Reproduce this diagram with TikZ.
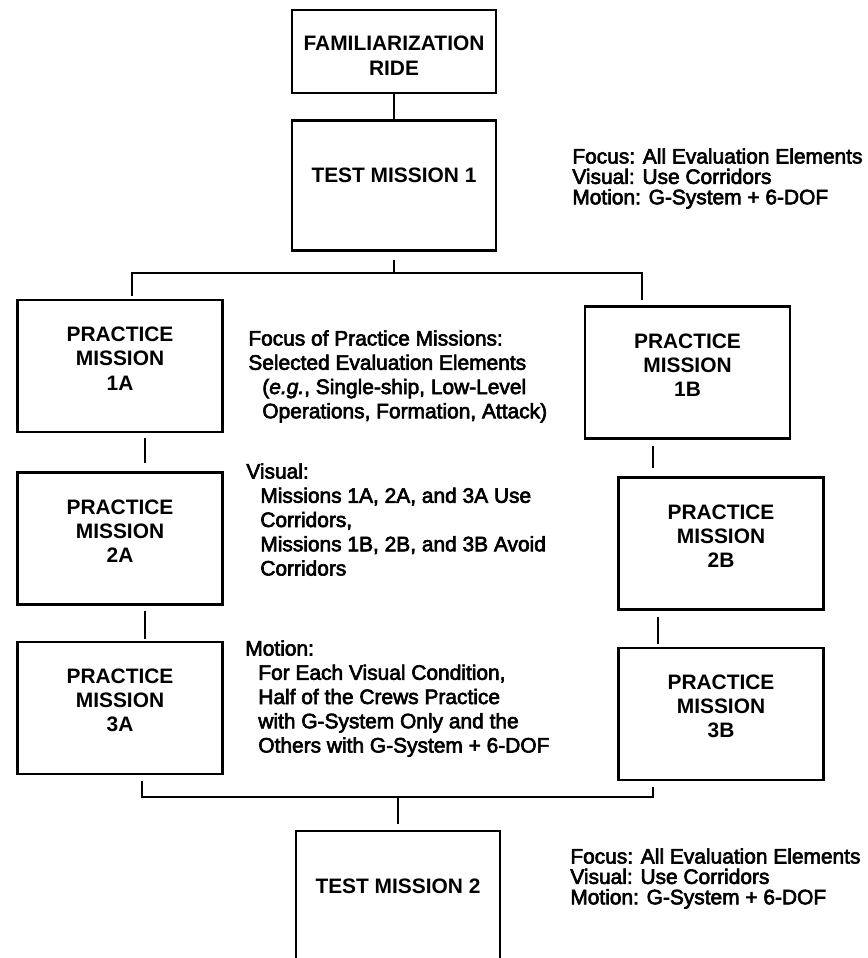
\documentclass[tikz,border=0pt]{standalone}
\usepackage{fontspec}
\setmainfont{Liberation Sans}
\newfontfamily\notefont[FakeBold=3]{Liberation Sans}
\usetikzlibrary{
  positioning,
  calc}

\tikzset{
  %% box : common outline of every mission box
  box/.style={
    rectangle,
    draw=black,
    line width=1.4pt,
    inner sep=0pt,
    align=center,
    font=\bfseries\fontsize{11.9}{13.7}\selectfont
  },
  %% ridebox : the familiarization ride
  ridebox/.style={
    box,
    minimum width=4.08cm,
    text height=1.3cm,
    text depth=0.36cm
  },
  %% testbox : a test mission, label sits above the middle
  testbox/.style={
    box,
    minimum width=4.07cm,
    text height=1.24cm,
    text depth=1.36cm
  },
  %% practicebox : a practice mission
  practicebox/.style={
    box,
    minimum width=4.1cm,
    text height=1.8cm,
    text depth=0.84cm
  },
  %% note : explanations between the two columns
  note/.style={
    anchor=north west,
    inner sep=0pt,
    align=left,
    font=\notefont\fontsize{11.9}{13.8}\selectfont
  },
  %% shortnote : three line summary beside a test mission
  shortnote/.style={
    note,
    font=\notefont\fontsize{11.9}{11.6}\selectfont
  },
  %% link : the connecting lines
  link/.style={line width=1.2pt}
}

\begin{document}
\begin{tikzpicture}
  [x=1cm,
  y=-1cm]

  \useasboundingbox (0,0) rectangle (17.36,19.16);

  %% first ride and test mission
  \node (famride) [ridebox] at (7.88,1.03) {%
    FAMILIARIZATION\\
    RIDE};

  \node (test_one) [below=0.5cm of famride, testbox] {TEST MISSION 1};


  %% practice missions, A column
  \node (prac_1a) [practicebox] at (2.4,7.32) {%
    PRACTICE\\
    MISSION\\
    1A};

  \node (prac_2a) [below=0.76cm of prac_1a, practicebox] {%
    PRACTICE\\
    MISSION\\
    2A};

  \node (prac_3a) [below=0.7cm of prac_2a, practicebox] {%
    PRACTICE\\
    MISSION\\
    3A};


  %% practice missions, B column
  \node (prac_1b) [practicebox] at (13.75,7.45) {%
    PRACTICE\\
    MISSION\\
    1B};

  \node (prac_2b) [practicebox] at (14.42,10.87) {%
    PRACTICE\\
    MISSION\\
    2B};

  \node (prac_3b) [below=0.72cm of prac_2b, practicebox] {%
    PRACTICE\\
    MISSION\\
    3B};


  %% final test mission
  \node (test_two) [testbox] at (7.96,17.92) {TEST MISSION 2};


  %% Connections
  \coordinate (fork_l) at (2.64,5.46);
  \coordinate (fork_r) at (12.84,5.46);
  \coordinate (join_l) at (2.84,15.94);
  \coordinate (join_r) at (13.06,15.94);

  \draw [link] (famride) -- (test_one);
  \draw [link, shorten <=0.16cm] (test_one) -- (test_one.south |- fork_l);
  \draw [link, shorten <=0.06cm, shorten >=0.1cm]
    (prac_1a.north -| fork_l) -- (fork_l) -- (fork_r) -- (prac_1b.north -| fork_r);

  \draw [link, shorten <=0.1cm, shorten >=0.16cm]
    ($(prac_1a.south)+(0.5,0)$) -- ($(prac_2a.north)+(0.5,0)$);
  \draw [link, shorten <=0.1cm, shorten >=0.04cm]
    ($(prac_2a.south)+(0.5,0)$) -- ($(prac_3a.north)+(0.5,0)$);

  \draw [link, shorten <=0.12cm, shorten >=0.16cm]
    ($(prac_1b.south)+(-0.69,0)$) -- ($(prac_2b.north)+(-1.36,0)$);
  \draw [link, shorten <=0.12cm, shorten >=0.06cm]
    ($(prac_2b.south)+(-1.26,0)$) -- ($(prac_3b.north)+(-1.26,0)$);

  \draw [link, shorten <=0.12cm, shorten >=0.12cm]
    (prac_3a.south -| join_l) -- (join_l) -- (join_r) -- (prac_3b.south -| join_r);
  \draw [link, shorten >=0.12cm] (test_two.north |- join_l) -- (test_two);


  %% Notes
  \node (test_one_note) [shortnote] at (11.44,2.96) {%
    Focus: All Evaluation Elements\\
    Visual: Use Corridors\\
    Motion: G-System + 6-DOF};

  \node (focus_note) [note] at (4.96,6.6) {%
    Focus of Practice Missions:\\
    Selected Evaluation Elements\\
    \hspace*{0.28cm}(\textit{e.g.}, Single-ship, Low-Level\\
    \hspace*{0.28cm}Operations, Formation, Attack)};

  \node (visual_note) [note] at (4.92,9.26) {%
    Visual:\\
    \hspace*{0.28cm}Missions 1A, 2A, and 3A Use\\
    \hspace*{0.28cm}Corridors,\\
    \hspace*{0.28cm}Missions 1B, 2B, and 3B Avoid\\
    \hspace*{0.28cm}Corridors};

  \node (motion_note) [note] at (4.9,12.8) {%
    Motion:\\
    \hspace*{0.26cm}For Each Visual Condition,\\
    \hspace*{0.26cm}Half of the Crews Practice\\
    \hspace*{0.26cm}with G-System Only and the\\
    \hspace*{0.26cm}Others with G-System + 6-DOF};

  \node (test_two_note) [shortnote] at (11.4,16.96) {%
    Focus: All Evaluation Elements\\
    Visual: Use Corridors\\
    Motion: G-System + 6-DOF};

\end{tikzpicture}
\end{document}
